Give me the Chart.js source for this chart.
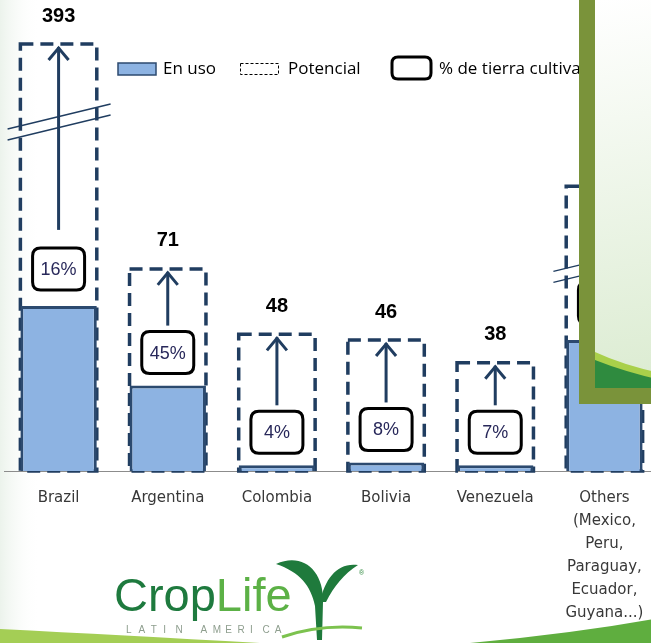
<!DOCTYPE html>
<html>
<head>
<meta charset="utf-8">
<script src="https://cdn.jsdelivr.net/npm/chart.js@4"></script>
<style>
  html, body { margin: 0; padding: 0; overflow: hidden; background: #fff; }
  canvas { display: block; }
</style>
</head>
<body>
<canvas id="landChart" width="662" height="643"></canvas>
<script>
// categories and values (million ha)
const categories = ['Brazil', 'Argentina', 'Colombia', 'Bolivia', 'Venezuela',
  ['Others', '(Mexico,', 'Peru,', 'Paraguay,', 'Ecuador,', 'Guyana...)']];
const usedValues = [58, 30, 2, 3, 2, 46];
// potential bars: Brazil and Others are drawn on a broken axis (capped height)
const potentialBars = [150, 71, 48, 46, 38, 100];
const potentialLabels = ['393', '71', '48', '46', '38', ''];
const cultivablePct = ['16%', '45%', '4%', '8%', '7%', ''];
const brokenBars = [true, false, false, false, false, true];

const NAVY = '#203d60';
const BAR_FILL = '#8db3e2';
const BAR_LINE = '#2c4a6f';

function roundRect(ctx, x, y, w, h, r) {
  ctx.beginPath();
  ctx.moveTo(x + r, y);
  ctx.lineTo(x + w - r, y);
  ctx.quadraticCurveTo(x + w, y, x + w, y + r);
  ctx.lineTo(x + w, y + h - r);
  ctx.quadraticCurveTo(x + w, y + h, x + w - r, y + h);
  ctx.lineTo(x + r, y + h);
  ctx.quadraticCurveTo(x, y + h, x, y + h - r);
  ctx.lineTo(x, y + r);
  ctx.quadraticCurveTo(x, y, x + r, y);
  ctx.closePath();
}

const backgroundPlugin = {
  id: 'slideBackground',
  beforeDraw(chart) {
    const ctx = chart.ctx;
    ctx.save();
    ctx.fillStyle = '#ffffff';
    ctx.fillRect(0, 0, chart.width, chart.height);
    // faint green tint at the left edge
    let g = ctx.createLinearGradient(0, 0, 40, 0);
    g.addColorStop(0, 'rgba(200,220,200,0.35)');
    g.addColorStop(1, 'rgba(255,255,255,0)');
    ctx.fillStyle = g;
    ctx.fillRect(0, 0, 40, chart.height);
    // green swooshes at the bottom
    ctx.fillStyle = '#a4ce55';
    ctx.beginPath();
    ctx.moveTo(0, 629);
    ctx.quadraticCurveTo(120, 635, 260, 643);
    ctx.lineTo(0, 643);
    ctx.closePath();
    ctx.fill();
    ctx.fillStyle = '#5fae3f';
    ctx.beginPath();
    ctx.moveTo(470, 643);
    ctx.quadraticCurveTo(570, 634, 660, 618);
    ctx.lineTo(660, 643);
    ctx.closePath();
    ctx.fill();
    ctx.restore();
  }
};

const potentialPlugin = {
  id: 'potentialBoxes',
  beforeDatasetsDraw(chart) {
    const ctx = chart.ctx;
    const meta = chart.getDatasetMeta(1);
    ctx.save();
    ctx.strokeStyle = NAVY;
    ctx.lineWidth = 3.5;
    ctx.setLineDash([13, 7]);
    meta.data.forEach((bar) => {
      const p = bar.getProps(['x', 'y', 'base', 'width'], true);
      ctx.strokeRect(p.x - p.width / 2, p.y, p.width, p.base - p.y);
    });
    ctx.restore();
  },
  afterDatasetsDraw(chart) {
    const ctx = chart.ctx;
    const used = chart.getDatasetMeta(0).data;
    const pot = chart.getDatasetMeta(1).data;
    ctx.save();
    pot.forEach((bar, i) => {
      const p = bar.getProps(['x', 'y', 'base', 'width'], true);
      const u = used[i].getProps(['y'], true);
      const boxBottom = Math.min(u.y, p.base) - (brokenBars[i] ? 16 : 12);
      const boxTop = boxBottom - 42;
      const bw = 52;

      // broken axis marks
      if (brokenBars[i]) {
        const my = p.y + 72;
        ctx.strokeStyle = NAVY;
        ctx.lineWidth = 1.4;
        ctx.setLineDash([]);
        [0, 11].forEach((off) => {
          ctx.beginPath();
          ctx.moveTo(p.x - 51, my + 13 + off);
          ctx.lineTo(p.x + 52, my - 12 + off);
          ctx.stroke();
        });
      }

      // arrow from the % box up to the potential
      const ay0 = boxTop - (brokenBars[i] ? 18 : 6);
      const ay1 = p.y + 3;
      ctx.strokeStyle = NAVY;
      ctx.lineWidth = 3;
      ctx.setLineDash([]);
      ctx.beginPath();
      ctx.moveTo(p.x, ay0);
      ctx.lineTo(p.x, ay1);
      ctx.stroke();
      ctx.beginPath();
      ctx.moveTo(p.x - 10, ay1 + 13);
      ctx.lineTo(p.x, ay1 + 1);
      ctx.lineTo(p.x + 10, ay1 + 13);
      ctx.stroke();

      // % of arable land box
      roundRect(ctx, p.x - bw / 2, boxTop, bw, 42, 8);
      ctx.fillStyle = '#ffffff';
      ctx.fill();
      ctx.strokeStyle = '#000000';
      ctx.lineWidth = 3;
      ctx.stroke();
      ctx.fillStyle = '#28285a';
      ctx.font = '18px "Liberation Sans", Arial, sans-serif';
      ctx.textAlign = 'center';
      ctx.textBaseline = 'middle';
      ctx.fillText(cultivablePct[i], p.x, boxTop + 22);

      // potential value label
      ctx.fillStyle = '#000000';
      ctx.font = 'bold 20px "Liberation Sans", Arial, sans-serif';
      ctx.fillText(potentialLabels[i], p.x, p.y - 28);
    });
    ctx.restore();
  }
};

const legendOverlayPlugin = {
  id: 'legendAndOverlay',
  afterDraw(chart) {
    const ctx = chart.ctx;
    ctx.save();
    // legend
    ctx.font = '17px "Open Sans", sans-serif';
    ctx.textBaseline = 'middle';
    ctx.textAlign = 'left';
    ctx.fillStyle = BAR_FILL;
    ctx.fillRect(118, 63, 38, 12);
    ctx.strokeStyle = BAR_LINE;
    ctx.lineWidth = 1.5;
    ctx.strokeRect(118, 63, 38, 12);
    ctx.fillStyle = '#000';
    ctx.fillText('En uso', 163, 69);
    ctx.setLineDash([3, 2]);
    ctx.lineWidth = 1;
    ctx.strokeStyle = '#000';
    ctx.strokeRect(240.5, 63.5, 38, 11);
    ctx.setLineDash([]);
    ctx.fillText('Potencial', 288, 69);
    roundRect(ctx, 392, 57, 39, 22, 6);
    ctx.lineWidth = 3;
    ctx.stroke();
    ctx.fillText('% de tierra cultivable', 439, 69);

    // green framed picture overlay on the right
    ctx.fillStyle = '#7a933a';
    ctx.fillRect(579, 0, 90, 404);
    let g = ctx.createLinearGradient(595, 0, 660, 380);
    g.addColorStop(0, '#ffffff');
    g.addColorStop(1, '#dcecd2');
    ctx.fillStyle = g;
    ctx.fillRect(595, 0, 70, 388);
    ctx.beginPath();
    ctx.rect(595, 0, 70, 388);
    ctx.clip();
    ctx.fillStyle = '#a9d04a';
    ctx.beginPath();
    ctx.moveTo(595, 352);
    ctx.quadraticCurveTo(625, 366, 665, 374);
    ctx.lineTo(665, 388);
    ctx.lineTo(595, 388);
    ctx.closePath();
    ctx.fill();
    ctx.fillStyle = '#2f8b3f';
    ctx.beginPath();
    ctx.moveTo(595, 360);
    ctx.quadraticCurveTo(625, 372, 665, 381);
    ctx.lineTo(665, 388);
    ctx.lineTo(595, 388);
    ctx.closePath();
    ctx.fill();
    ctx.restore();

    // CropLife logo
    ctx.save();
    ctx.textBaseline = 'alphabetic';
    ctx.textAlign = 'left';
    ctx.font = '47px "Liberation Sans", Arial, sans-serif';
    ctx.fillStyle = '#1e7a3e';
    ctx.fillText('Crop', 114, 611);
    const cw = ctx.measureText('Crop').width;
    ctx.fillStyle = '#5cb146';
    ctx.fillText('Life', 114 + cw, 611);
    ctx.font = '10px "Liberation Sans", Arial, sans-serif';
    ctx.fillStyle = '#8e9e8e';
    'LATIN AMERICA'.split('').forEach((ch, k) => {
      ctx.fillText(ch, 126 + k * 12.4, 633);
    });
    // plant
    ctx.fillStyle = '#1f7a3c';
    ctx.beginPath();
    ctx.moveTo(276, 564);
    ctx.bezierCurveTo(302, 552, 324, 570, 323, 602);
    ctx.lineTo(322, 640);
    ctx.lineTo(317, 640);
    ctx.lineTo(315, 606);
    ctx.bezierCurveTo(311, 586, 300, 572, 276, 564);
    ctx.closePath();
    ctx.fill();
    ctx.beginPath();
    ctx.moveTo(358, 565);
    ctx.bezierCurveTo(338, 562, 325, 578, 320, 602);
    ctx.lineTo(326, 602);
    ctx.bezierCurveTo(334, 586, 344, 574, 358, 565);
    ctx.closePath();
    ctx.fill();
    ctx.strokeStyle = '#7cc24e';
    ctx.lineWidth = 3;
    ctx.beginPath();
    ctx.moveTo(282, 637);
    ctx.quadraticCurveTo(320, 624, 362, 628);
    ctx.stroke();
    ctx.font = '7px "Liberation Sans", Arial, sans-serif';
    ctx.fillStyle = '#2f8b3f';
    ctx.fillText('®', 359, 575);
    ctx.restore();
  }
};

new Chart(document.getElementById('landChart'), {
  type: 'bar',
  data: {
    labels: categories,
    datasets: [
      {
        label: 'En uso',
        data: usedValues,
        backgroundColor: BAR_FILL,
        borderColor: BAR_LINE,
        borderWidth: 3
      },
      {
        label: 'Potencial',
        data: potentialBars,
        backgroundColor: 'rgba(0,0,0,0)',
        borderWidth: 0
      }
    ]
  },
  options: {
    responsive: false,
    animation: false,
    events: [],
    layout: { padding: { top: 44, left: 4, right: 3, bottom: 0 } },
    barPercentage: 0.7,
    categoryPercentage: 1.0,
    plugins: {
      legend: { display: false },
      tooltip: { enabled: false }
    },
    scales: {
      x: {
        stacked: true,
        grid: { display: false, drawTicks: false },
        border: { display: true, color: '#8c8c8c', width: 1 },
        ticks: {
          color: '#383838',
          padding: 16,
          font: { family: '"DejaVu Sans", sans-serif', size: 15, lineHeight: 23 / 15 }
        },
        afterFit(scale) { scale.height = 172; }
      },
      y: {
        display: false,
        stacked: false,
        min: 0,
        max: 150
      }
    }
  },
  plugins: [backgroundPlugin, potentialPlugin, legendOverlayPlugin]
});
</script>
</body>
</html>
